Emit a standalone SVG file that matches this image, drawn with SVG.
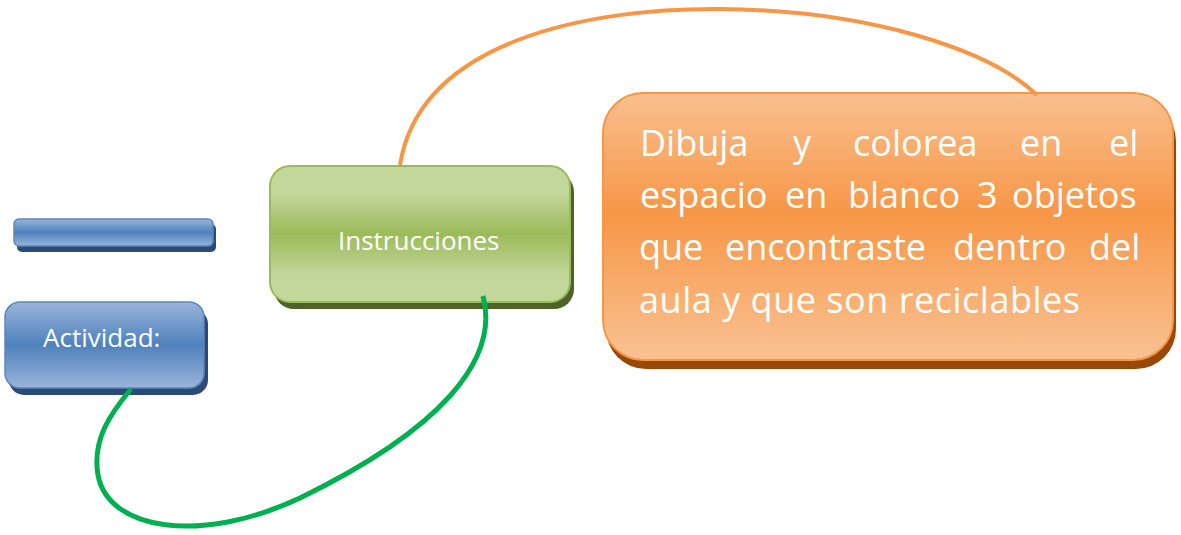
<svg xmlns="http://www.w3.org/2000/svg" width="1181" height="535" viewBox="0 0 1181 535">
<style>
.t{font-family:"Open Sans","Liberation Sans",sans-serif;fill:#ffffff}
.big{font-size:36px}
.sm{font-size:26px}
.conn{fill:none;stroke-linecap:butt}
</style>
<defs>
<linearGradient id="gb" x1="0" y1="0" x2="0" y2="1">
<stop offset="0" stop-color="#9ab5d9"/><stop offset="0.5" stop-color="#4f81bd"/><stop offset="1" stop-color="#9ab5d9"/>
</linearGradient>
<linearGradient id="gg" x1="0" y1="0" x2="0" y2="1">
<stop offset="0" stop-color="#c4d79b"/><stop offset="0.2" stop-color="#c3d69b"/><stop offset="0.5" stop-color="#9bbb59"/><stop offset="0.8" stop-color="#c3d69b"/><stop offset="1" stop-color="#c4d79b"/>
</linearGradient>
<linearGradient id="go" x1="0" y1="0" x2="0" y2="1">
<stop offset="0" stop-color="#f9c08f"/><stop offset="0.45" stop-color="#f79646"/><stop offset="1" stop-color="#f9c293"/>
</linearGradient>
</defs>
<g id="bar">
<rect x="17" y="224" width="199" height="28" rx="5" fill="#2c4a74"/>
<rect x="14" y="219" width="199" height="27" rx="5" fill="url(#gb)" stroke="#5a87c0" stroke-width="1.5"/>
</g>
<g id="actividad">
<rect x="9" y="309" width="199" height="86" rx="15" fill="#2c4a74"/>
<rect x="5" y="302" width="199" height="86" rx="15" fill="url(#gb)" stroke="#5a87c0" stroke-width="1.5"/>
<text class="t sm" x="43" y="347">Actividad:</text>
</g>
<g id="instrucciones">
<rect x="274" y="172" width="300" height="137" rx="20" fill="#4f6228"/>
<rect x="270" y="166" width="300" height="136" rx="20" fill="url(#gg)" stroke="#9bbb59" stroke-width="2"/>
<text class="t sm" x="338" y="250">Instrucciones</text>
</g>
<g id="nota">
<rect x="606" y="101" width="570" height="268" rx="40" fill="#984807"/>
<rect x="603" y="93" width="570" height="267" rx="40" fill="url(#go)" stroke="#f79646" stroke-width="2"/>
<text class="t big" y="156">
<tspan x="640">Dibuja</tspan>
<tspan x="793">y</tspan>
<tspan x="853">colorea</tspan>
<tspan x="1020">en</tspan>
<tspan x="1109">el</tspan>
</text>
<text class="t big" y="208">
<tspan x="640">espacio</tspan>
<tspan x="785">en</tspan>
<tspan x="848">blanco</tspan>
<tspan x="977">3</tspan>
<tspan x="1012">objetos</tspan>
</text>
<text class="t big" y="260">
<tspan x="639">que</tspan>
<tspan x="725">encontraste</tspan>
<tspan x="953">dentro</tspan>
<tspan x="1089">del</tspan>
</text>
<text class="t big" x="639" y="313" textLength="441">aula y que son reciclables</text>
</g>
<g id="connectors">
<path class="conn" d="M 400 165 C 420 40, 590 8, 720 9 C 870 10, 990 50, 1037 95" stroke="#f79646" stroke-width="4"/>
<path class="conn" d="M 483 296 C 500 360, 440 430, 300 498 C 200 545, 108 530, 98 475 C 92 440, 110 414, 131 389" stroke="#00b050" stroke-width="5"/>
</g>
</svg>
